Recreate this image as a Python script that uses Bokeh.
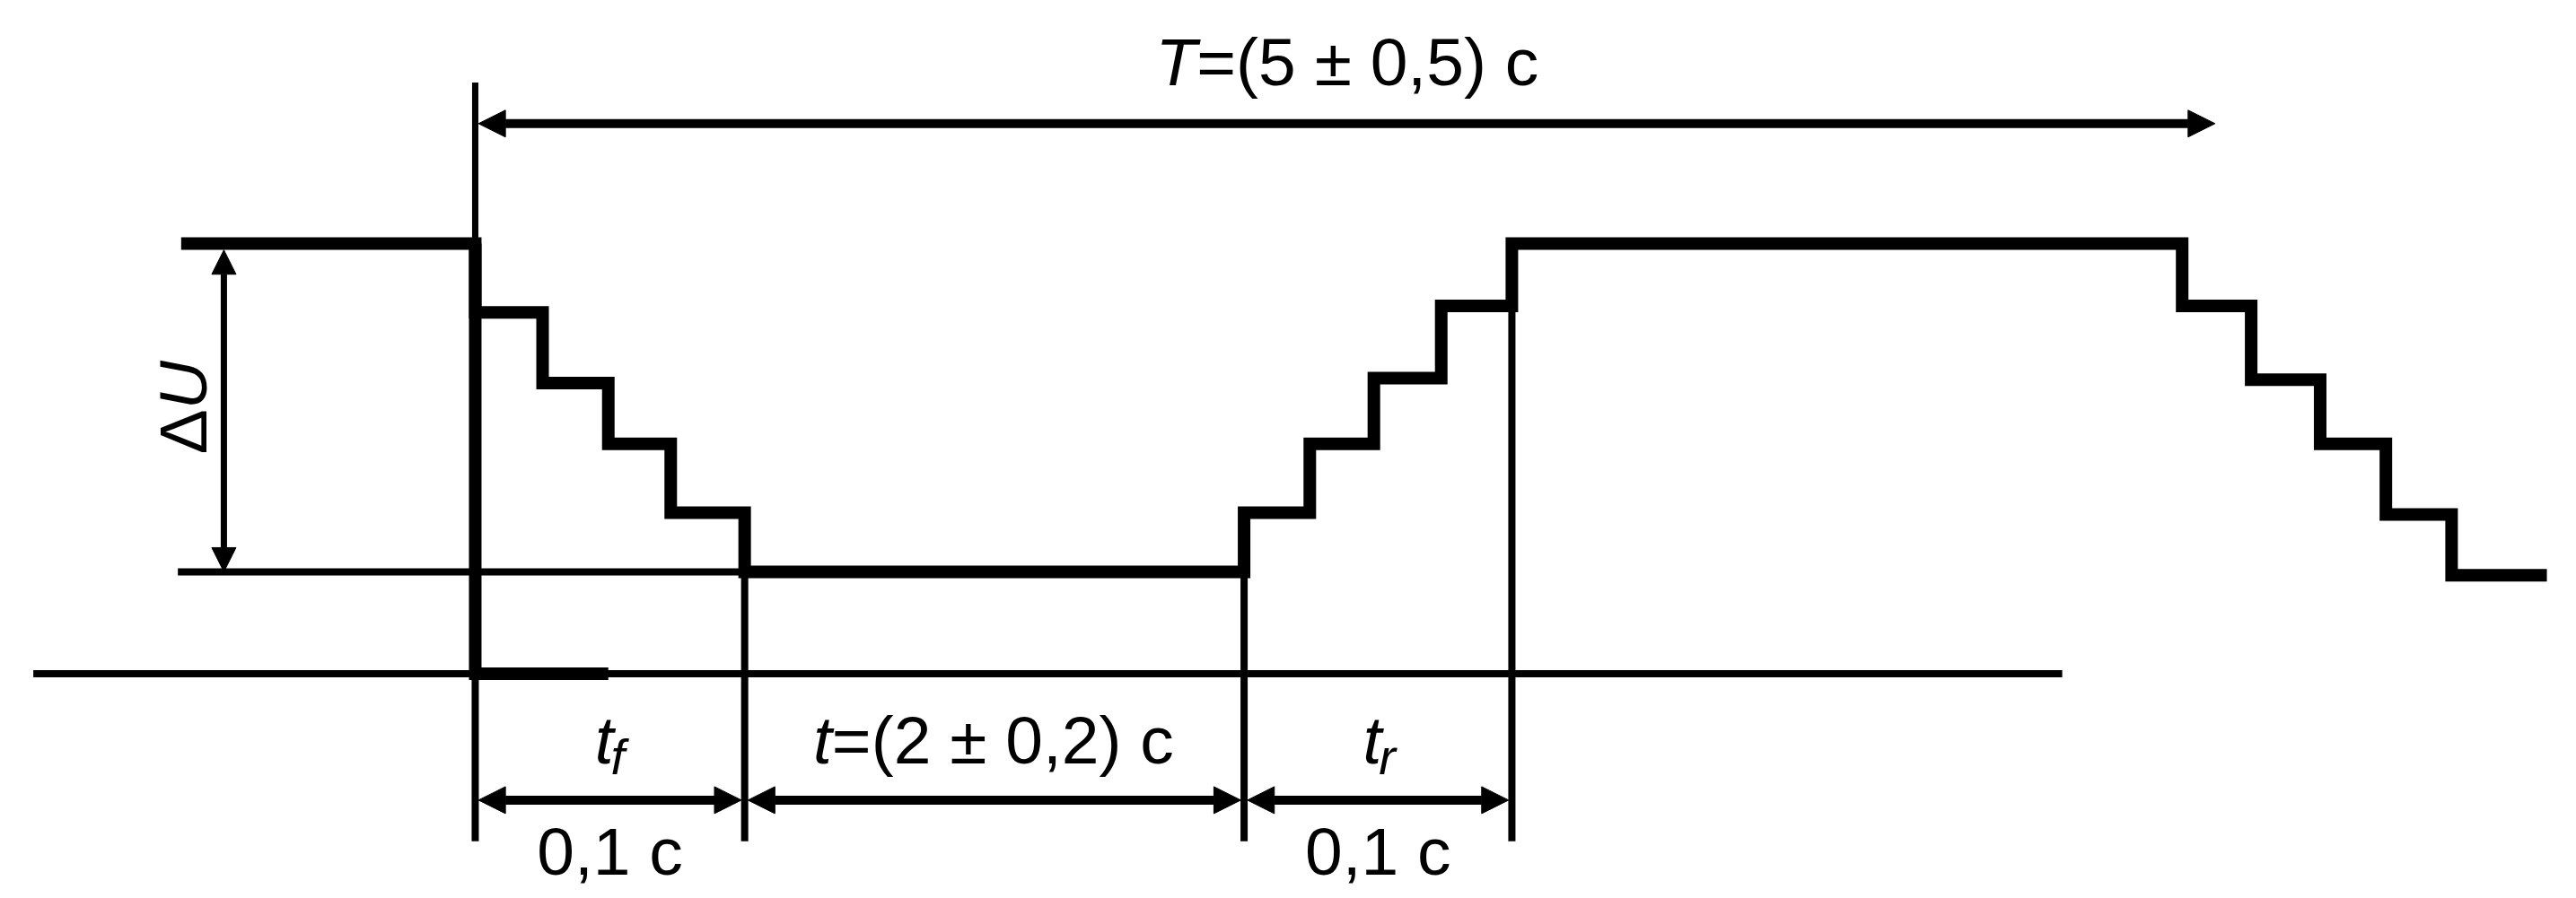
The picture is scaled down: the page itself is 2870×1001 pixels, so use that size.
import math
from bokeh.plotting import figure
from bokeh.models import Range1d, Arrow, NormalHead
from bokeh.core.properties import value
from bokeh.embed import file_html
from bokeh.resources import INLINE

# ---------------- data (diagram units; x from start of fall, y up from the zero line) -------------
pre_start_x = -179
high_level = 262
low_level = 62
fall_edges = [0, 41, 81, 119, 164]
fall_levels = [262, 220, 177, 140, 98, 62]
rise_edges = [468, 508, 547, 588, 631]
rise_levels = [62, 98, 140, 180, 224, 262]
fall2_edges = [1039, 1081, 1123, 1163, 1203]
fall2_levels = [262, 224, 179, 140, 97, 60]
post_end_x = 1261
period_end = 1059
zero_line = [-269, 966]
zero_thick_end = 81
ref_line_start = -181
du_x = -153
dim_y = -77
dim_bottom = -102
period_y = 335
period_top = 360

title_parts = ["T", "=(5 ± 0,5) c"]
mid_parts = ["t", "=(2 ± 0,2) c"]
tf_parts = ["t", "f"]
tr_parts = ["t", "r"]
dur_label = "0,1 c"
du_parts = ["Δ", "U"]

# ---------------- figure -------------
K = 2870 / 1568.0
W, H = 2870, 1001
x0 = -289
ytop = 410
p = figure(width=W, height=H, output_backend="svg", toolbar_location=None,
           x_range=Range1d(x0, x0 + W / K), y_range=Range1d(ytop - H / K, ytop),
           min_border=0)
p.axis.visible = False
p.grid.visible = False
p.outline_line_color = None
p.background_fill_color = "white"
p.border_fill_color = "white"

BLACK = "black"
FONT = value("Liberation Sans")
FS = "75px"
FIX = 14.5  # baseline correction (diagram units)


def steps(edges, levels):
    xs, ys = [], []
    for i, e in enumerate(edges):
        xs += [e, e]
        ys += [levels[i], levels[i + 1]]
    return xs, ys

xs, ys = [pre_start_x], [high_level]
for e, l in ((fall_edges, fall_levels), (rise_edges, rise_levels), (fall2_edges, fall2_levels)):
    a, b = steps(e, l)
    xs += a
    ys += b
xs.append(post_end_x)
ys.append(fall2_levels[-1])

# thin lines
p.line(zero_line, [0, 0], line_width=8, color=BLACK)
p.line([ref_line_start, fall_edges[-1]], [low_level, low_level], line_width=8, color=BLACK)
p.line([fall_edges[0], fall_edges[0]], [high_level, period_top], line_width=7, color=BLACK)
p.line([fall_edges[0], fall_edges[0]], [0, dim_bottom], line_width=8, color=BLACK)
p.line([fall_edges[-1], fall_edges[-1]], [low_level, dim_bottom], line_width=8, color=BLACK)
p.line([rise_edges[0], rise_edges[0]], [low_level, dim_bottom], line_width=8, color=BLACK)
p.line([rise_edges[-1], rise_edges[-1]], [rise_levels[-2], dim_bottom], line_width=8, color=BLACK)

# thick signal
p.line(xs, ys, line_width=14, color=BLACK, line_join="miter")
p.line([fall_edges[0], fall_edges[0], zero_thick_end], [high_level, 0, 0], line_width=14,
       color=BLACK, line_join="miter")

# arrows
def darrow(xa, ya, xb, yb, lw, size):
    p.add_layout(Arrow(x_start=xa, y_start=ya, x_end=xb, y_end=yb, line_width=lw, line_color=BLACK,
                       start=NormalHead(size=size, fill_color=BLACK, line_color=BLACK, line_width=1),
                       end=NormalHead(size=size, fill_color=BLACK, line_color=BLACK, line_width=1)))

darrow(fall_edges[0] + 2, period_y, period_end, period_y, 10, 30)
darrow(du_x, high_level - 4, du_x, low_level, 7, 27)
darrow(fall_edges[0] + 2, dim_y, fall_edges[-1] - 2, dim_y, 10, 30)
darrow(fall_edges[-1] + 2, dim_y, rise_edges[0] - 2, dim_y, 10, 30)
darrow(rise_edges[0] + 2, dim_y, rise_edges[-1] - 2, dim_y, 10, 30)

# text
def two_part(cx, y, a, b, off, sub_dy=0, sub_size=None, b_italic=False, b_off=0):
    y = y + FIX
    p.text([cx], [y], text=[a], text_font=FONT, text_font_size=FS, text_font_style="italic",
           text_align="right", text_baseline="alphabetic", x_offset=off, text_color=BLACK)
    p.text([cx], [y - sub_dy], text=[b], text_font=FONT, text_font_size=sub_size or FS,
           text_font_style="italic" if b_italic else "normal",
           text_align="left", text_baseline="alphabetic", x_offset=off + b_off, text_color=BLACK)

two_part((fall_edges[0] + period_end) / 2 + 2, 358, title_parts[0], title_parts[1], -169)
two_part((fall_edges[-1] + rise_edges[0]) / 2, -55, mid_parts[0], mid_parts[1], -181)
two_part((fall_edges[0] + fall_edges[-1]) / 2, -55, tf_parts[0], tf_parts[1], 4, 10, "56px", True, -3)
two_part((rise_edges[0] + rise_edges[-1]) / 2, -55, tr_parts[0], tr_parts[1], 4, 10, "56px", True, -3)
for cx in [(fall_edges[0] + fall_edges[-1]) / 2, (rise_edges[0] + rise_edges[-1]) / 2]:
    p.text([cx], [-122.7 + FIX], text=[dur_label], text_font=FONT, text_font_size=FS,
           text_align="center", text_baseline="alphabetic", text_color=BLACK)

# ΔU rotated
p.text([-163.3 - FIX], [161], text=[du_parts[0]], angle=math.pi / 2, text_font=FONT,
       text_font_size=FS, text_align="right", text_baseline="alphabetic", text_color=BLACK)
p.text([-163.3 - FIX], [161], text=[du_parts[1]], angle=math.pi / 2, text_font=FONT,
       text_font_size=FS, text_font_style="italic", text_align="left", text_baseline="alphabetic",
       text_color=BLACK)

open("out.html", "w").write(file_html(p, INLINE))
